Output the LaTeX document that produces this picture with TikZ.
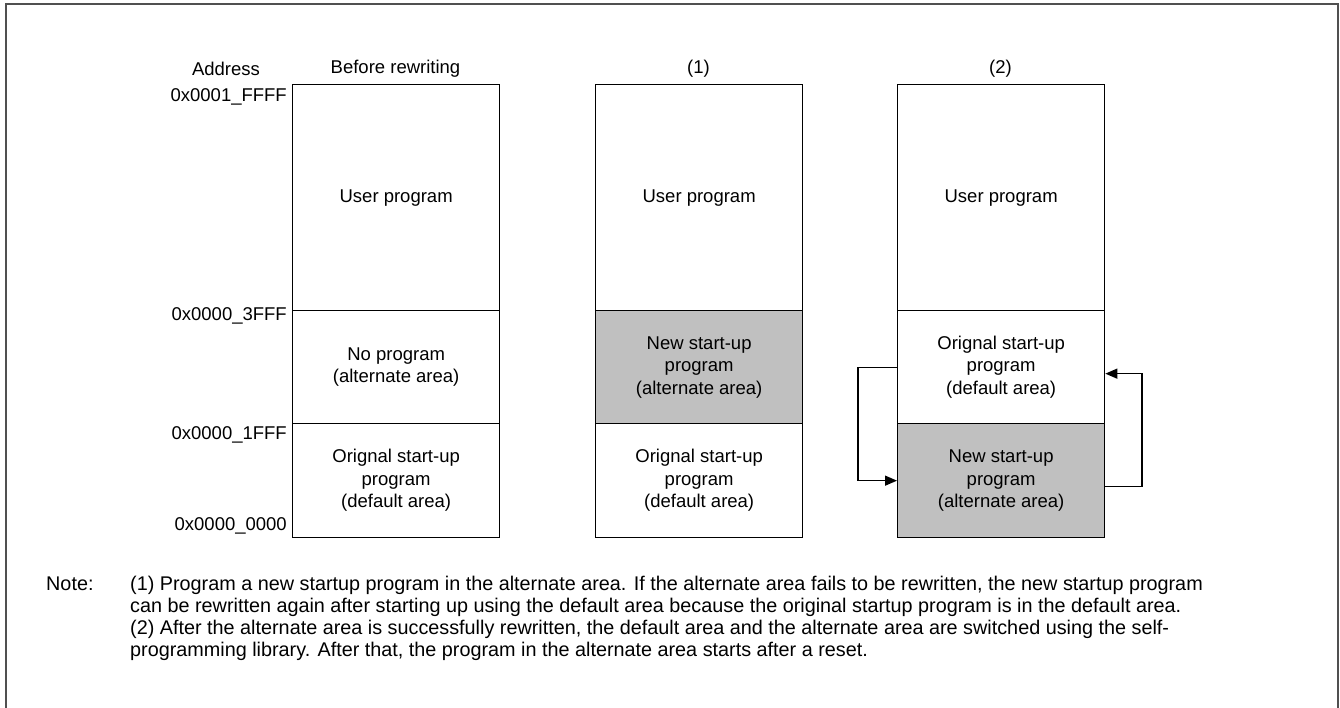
\documentclass[tikz,border=0pt]{standalone}
\usepackage{fontspec}
\setmainfont{Liberation Sans}
\usetikzlibrary{arrows.meta}
\definecolor{fillgray}{HTML}{C0C0C0}
\definecolor{framegray}{HTML}{505050}
\begin{document}
\begin{tikzpicture}[x=1pt,y=-1pt,
  txt/.style={font=\fontsize{18.5}{22}\selectfont, inner sep=0pt, align=center},
  seg/.style={draw=black, line width=1.3pt, minimum width=207pt, inner sep=0pt,
    align=center, font=\fontsize{18.5}{22.5}\selectfont, anchor=north west},
  newseg/.style={seg, fill=fillgray},
  addr/.style={txt, anchor=east},
  noteline/.style={font=\fontsize{19.8}{22}\selectfont, inner sep=0pt, anchor=base west},
  arr/.style={line width=1.3pt, -{Triangle[length=12pt,width=10pt]}}
]
\useasboundingbox (0,0) rectangle (1340,708);
\draw[draw=framegray, line width=2pt] (6,4) rectangle (1338,720);

% headings
\node[txt] (haddr) at (226,69) {Address};
\node[txt] (h0) at (395.5,69) {Before rewriting};
\node[txt] (h1) at (698.5,69) {(1)};
\node[txt] (h2) at (1000.5,69) {(2)};

% addresses
\node[addr] (a1) at (287,97) {0x0001\_FFFF};
\node[addr] (a2) at (287,316) {0x0000\_3FFF};
\node[addr] (a3) at (287,435) {0x0000\_1FFF};
\node[addr] (a4) at (287,526) {0x0000\_0000};

% column 0
\node[seg, minimum height=226pt] (b0u) at (292,84) {User program};
\node[seg, minimum height=113pt] (b0m) at (292,310) {No program\\(alternate area)};
\node[seg, minimum height=114pt] (b0l) at (292,423) {Orignal start-up\\program\\(default area)};

% column 1
\node[seg, minimum height=226pt] (b1u) at (595,84) {User program};
\node[newseg, minimum height=113pt] (b1m) at (595,310) {New start-up\\program\\(alternate area)};
\node[seg, minimum height=114pt] (b1l) at (595,423) {Orignal start-up\\program\\(default area)};

% column 2
\node[seg, minimum height=226pt] (b2u) at (897,84) {User program};
\node[seg, minimum height=113pt] (b2m) at (897,310) {Orignal start-up\\program\\(default area)};
\node[newseg, minimum height=114pt] (b2l) at (897,423) {New start-up\\program\\(alternate area)};

% swap arrows
\coordinate (lx) at (858,0);
\coordinate (rx) at (1142,0);
\draw[arr] (b2m.west) -- (b2m.west -| lx) -- (b2l.west -| lx) -- (b2l.west);
\draw[arr] ([yshift=-6pt]b2l.east) -- ([yshift=-6pt]b2l.east -| rx)
  -- ([yshift=-6.5pt]b2m.east -| rx) -- ([yshift=-6.5pt]b2m.east);

% note
\node[noteline] (nlabel) at (46,590) {Note:};
\node[noteline] (n1) at (130,590) {(1) Program a new startup program in the alternate area. If the alternate area fails to be rewritten, the new startup program};
\node[noteline] (n2) at (130,612) {can be rewritten again after starting up using the default area because the original startup program is in the default area.};
\node[noteline] (n3) at (130,634) {(2) After the alternate area is successfully rewritten, the default area and the alternate area are switched using the self-};
\node[noteline] (n4) at (130,656) {programming library. After that, the program in the alternate area starts after a reset.};
\end{tikzpicture}
\end{document}
